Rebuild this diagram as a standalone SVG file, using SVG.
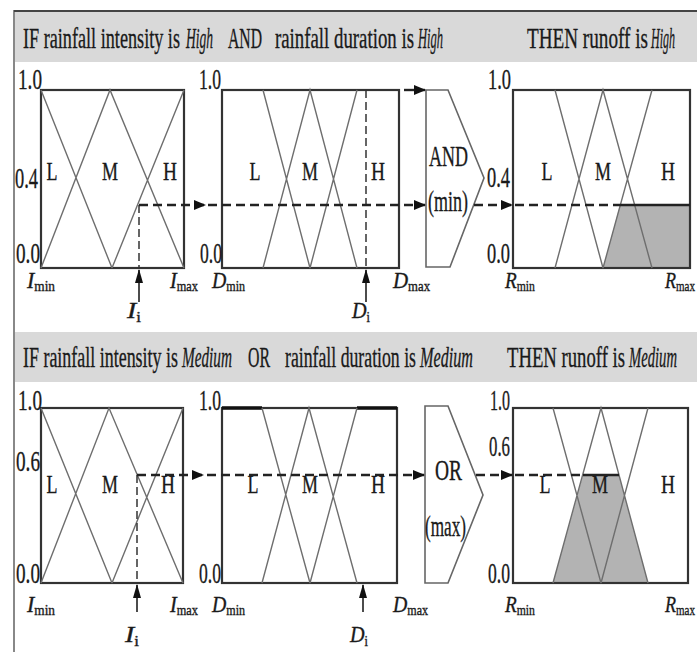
<svg xmlns="http://www.w3.org/2000/svg" width="697" height="652" viewBox="0 0 697 652">
<defs>
<style>
text{font-family:"Liberation Serif","Times New Roman",serif;fill:#1a1a1a;stroke:#1a1a1a;stroke-width:0.35;}
.hd{font-size:30px;}
.num{font-size:30px;}
.lab{font-size:26px;text-anchor:middle;}
.ax{font-size:23px;}
.sub{font-size:14px;font-style:normal;}
.it{font-style:italic;}
.box{fill:none;stroke:#333;stroke-width:2.2;}
.mf{fill:none;stroke:#6e6e6e;stroke-width:1.4;}
.shade{fill:#b3b3b3;stroke:none;}
.gate{fill:#fff;stroke:#666;stroke-width:1.6;}
.dash{fill:none;stroke:#222;stroke-width:2.6;stroke-dasharray:9 5;}
.vdash{fill:none;stroke:#333;stroke-width:1.5;stroke-dasharray:8 4;}
.solid{fill:none;stroke:#222;stroke-width:2.4;}
.up{fill:none;stroke:#111;stroke-width:1.5;}
.band{fill:#d9d9d9;}
</style>
<marker id="ah" markerWidth="12" markerHeight="10" refX="11" refY="5" orient="auto" markerUnits="userSpaceOnUse"><path d="M0,0 L12,5 L0,10 Z" fill="#111"/></marker>
<marker id="av" markerWidth="14" markerHeight="8" refX="13" refY="4" orient="auto" markerUnits="userSpaceOnUse"><path d="M0,0 L14,4 L0,8 Z" fill="#111"/></marker>
</defs>
<rect x="0" y="0" width="697" height="652" fill="#fff"/>

<g id="frame">
<rect class="band" x="15" y="12" width="682" height="50"/>
<rect class="band" x="15" y="332" width="682" height="50"/>
<line x1="14" y1="10" x2="14" y2="652" stroke="#888" stroke-width="2"/>
<line x1="14" y1="11" x2="697" y2="11" stroke="#444" stroke-width="2"/>
</g>

<g id="header-top" transform="scale(0.625,1)">
<text class="hd" x="36.8" y="48" textLength="251.2" lengthAdjust="spacingAndGlyphs">IF rainfall intensity is</text>
<text class="hd it" x="297.6" y="48" textLength="43.2" lengthAdjust="spacingAndGlyphs">High</text>
<text class="hd" x="364.8" y="48" textLength="54.4" lengthAdjust="spacingAndGlyphs">AND</text>
<text class="hd" x="440" y="48" textLength="222.4" lengthAdjust="spacingAndGlyphs">rainfall duration is</text>
<text class="hd it" x="668.8" y="48" textLength="40" lengthAdjust="spacingAndGlyphs">High</text>
<text class="hd" x="843.2" y="48" textLength="193.6" lengthAdjust="spacingAndGlyphs">THEN runoff is</text>
<text class="hd it" x="1041.6" y="48" textLength="38.4" lengthAdjust="spacingAndGlyphs">High</text>
</g>

<g id="header-bottom" transform="scale(0.625,1)">
<text class="hd" x="36.8" y="367" textLength="248" lengthAdjust="spacingAndGlyphs">IF rainfall intensity is</text>
<text class="hd it" x="291.2" y="367" textLength="80" lengthAdjust="spacingAndGlyphs">Medium</text>
<text class="hd" x="396.8" y="367" textLength="35.2" lengthAdjust="spacingAndGlyphs">OR</text>
<text class="hd" x="456" y="367" textLength="209.6" lengthAdjust="spacingAndGlyphs">rainfall duration is</text>
<text class="hd it" x="672" y="367" textLength="84.8" lengthAdjust="spacingAndGlyphs">Medium</text>
<text class="hd" x="811.2" y="367" textLength="188.8" lengthAdjust="spacingAndGlyphs">THEN runoff is</text>
<text class="hd it" x="1006.4" y="367" textLength="76.8" lengthAdjust="spacingAndGlyphs">Medium</text>
</g>

<g id="intensity-high">
<rect class="box" x="41" y="90" width="143" height="178"/>
<path class="mf" d="M41,90 L112,268 M41,268 L110,90 L184,268 M112,268 L184,90"/>
<g transform="scale(0.625,1)">
<text class="num" x="28.8" y="89" textLength="38.4" lengthAdjust="spacingAndGlyphs">1.0</text>
<text class="num" x="24" y="188" textLength="36.8" lengthAdjust="spacingAndGlyphs">0.4</text>
<text class="num" x="25.6" y="263" textLength="38.4" lengthAdjust="spacingAndGlyphs">0.0</text>
<text class="lab" x="83.2" y="180" textLength="17.6" lengthAdjust="spacingAndGlyphs">L</text>
<text class="lab" x="176" y="180" textLength="25.6" lengthAdjust="spacingAndGlyphs">M</text>
<text class="lab" x="272" y="180" textLength="22.4" lengthAdjust="spacingAndGlyphs">H</text>
<text class="ax" x="43.2" y="288" textLength="44.8" lengthAdjust="spacingAndGlyphs"><tspan class="it">I</tspan><tspan class="sub" dy="3">min</tspan></text>
<text class="ax" x="272" y="288" textLength="44.8" lengthAdjust="spacingAndGlyphs"><tspan class="it">I</tspan><tspan class="sub" dy="3">max</tspan></text>
<text class="ax" x="203.2" y="318" textLength="22.4" lengthAdjust="spacingAndGlyphs"><tspan class="it">I</tspan><tspan class="sub" dy="4">i</tspan></text>
</g>
</g>

<g id="duration-high">
<rect class="box" x="222" y="90" width="177" height="178"/>
<path class="mf" d="M263,90 L310,268 M263,268 L310,90 L357,268 M310,268 L357,90"/>
<g transform="scale(0.625,1)">
<text class="num" x="318.4" y="89" textLength="35.2" lengthAdjust="spacingAndGlyphs">1.0</text>
<text class="num" x="320" y="263" textLength="35.2" lengthAdjust="spacingAndGlyphs">0.0</text>
<text class="lab" x="408" y="180" textLength="17.6" lengthAdjust="spacingAndGlyphs">L</text>
<text class="lab" x="496" y="180" textLength="25.6" lengthAdjust="spacingAndGlyphs">M</text>
<text class="lab" x="604.8" y="180" textLength="22.4" lengthAdjust="spacingAndGlyphs">H</text>
<text class="ax" x="339.2" y="288" textLength="52.8" lengthAdjust="spacingAndGlyphs"><tspan class="it">D</tspan><tspan class="sub" dy="3">min</tspan></text>
<text class="ax" x="628.8" y="288" textLength="59.2" lengthAdjust="spacingAndGlyphs"><tspan class="it">D</tspan><tspan class="sub" dy="3">max</tspan></text>
<text class="ax" x="563.2" y="318" textLength="28.8" lengthAdjust="spacingAndGlyphs"><tspan class="it">D</tspan><tspan class="sub" dy="4">i</tspan></text>
</g>
</g>

<g id="and-min">
<polygon class="gate" points="426,90 448,90 484,178 450,267 426,267"/>
<g transform="scale(0.625,1)">
<text class="hd" x="686.4" y="166" textLength="62.4" lengthAdjust="spacingAndGlyphs">AND</text>
<text class="num" x="684.8" y="211" font-size="27" textLength="64" lengthAdjust="spacingAndGlyphs">(min)</text>
</g>
</g>

<g id="runoff-high">
<polygon class="shade" points="603,268 620,205 690,205 690,268"/>
<rect class="box" x="513" y="90" width="177" height="178"/>
<path class="mf" d="M555,90 L603,268 M555,268 L603,90 L652,268 M603,268 L652,90"/>
<g transform="scale(0.625,1)">
<text class="num" x="780.8" y="89" textLength="36.8" lengthAdjust="spacingAndGlyphs">1.0</text>
<text class="num" x="779.2" y="187" textLength="36.8" lengthAdjust="spacingAndGlyphs">0.4</text>
<text class="num" x="779.2" y="263" textLength="36.8" lengthAdjust="spacingAndGlyphs">0.0</text>
<text class="lab" x="875.2" y="180" textLength="17.6" lengthAdjust="spacingAndGlyphs">L</text>
<text class="lab" x="964.8" y="180" textLength="25.6" lengthAdjust="spacingAndGlyphs">M</text>
<text class="lab" x="1068.8" y="180" textLength="22.4" lengthAdjust="spacingAndGlyphs">H</text>
<text class="ax" x="808" y="288" textLength="48" lengthAdjust="spacingAndGlyphs"><tspan class="it">R</tspan><tspan class="sub" dy="3">min</tspan></text>
<text class="ax" x="1064" y="288" textLength="48" lengthAdjust="spacingAndGlyphs"><tspan class="it">R</tspan><tspan class="sub" dy="3">max</tspan></text>
</g>
</g>

<g id="intensity-medium">
<rect class="box" x="41" y="408" width="142" height="175"/>
<path class="mf" d="M41,408 L112,583 M41,583 L109,408 L183,583 M112,583 L183,408"/>
<g transform="scale(0.625,1)">
<text class="num" x="28.8" y="410" textLength="38.4" lengthAdjust="spacingAndGlyphs">1.0</text>
<text class="num" x="25.6" y="471" textLength="38.4" lengthAdjust="spacingAndGlyphs">0.6</text>
<text class="num" x="25.6" y="583" textLength="38.4" lengthAdjust="spacingAndGlyphs">0.0</text>
<text class="lab" x="83.2" y="493" textLength="17.6" lengthAdjust="spacingAndGlyphs">L</text>
<text class="lab" x="176" y="493" textLength="25.6" lengthAdjust="spacingAndGlyphs">M</text>
<text class="lab" x="268.8" y="493" textLength="22.4" lengthAdjust="spacingAndGlyphs">H</text>
<text class="ax" x="43.2" y="612" textLength="44.8" lengthAdjust="spacingAndGlyphs"><tspan class="it">I</tspan><tspan class="sub" dy="3">min</tspan></text>
<text class="ax" x="272" y="612" textLength="44.8" lengthAdjust="spacingAndGlyphs"><tspan class="it">I</tspan><tspan class="sub" dy="3">max</tspan></text>
<text class="ax" x="200" y="642" textLength="22.4" lengthAdjust="spacingAndGlyphs"><tspan class="it">I</tspan><tspan class="sub" dy="4">i</tspan></text>
</g>
</g>

<g id="duration-medium">
<rect class="box" x="222" y="408" width="175" height="175"/>
<path d="M222,408 L262,408 M357,408 L397,408" stroke="#111" stroke-width="3.6" fill="none"/>
<path class="mf" d="M262,408 L310,583 M262,583 L309,408 L357,583 M310,583 L357,408"/>
<g transform="scale(0.625,1)">
<text class="num" x="318.4" y="410" textLength="35.2" lengthAdjust="spacingAndGlyphs">1.0</text>
<text class="num" x="318.4" y="583" textLength="35.2" lengthAdjust="spacingAndGlyphs">0.0</text>
<text class="lab" x="404.8" y="493" textLength="17.6" lengthAdjust="spacingAndGlyphs">L</text>
<text class="lab" x="496" y="493" textLength="25.6" lengthAdjust="spacingAndGlyphs">M</text>
<text class="lab" x="604.8" y="493" textLength="22.4" lengthAdjust="spacingAndGlyphs">H</text>
<text class="ax" x="339.2" y="612" textLength="52.8" lengthAdjust="spacingAndGlyphs"><tspan class="it">D</tspan><tspan class="sub" dy="3">min</tspan></text>
<text class="ax" x="628.8" y="612" textLength="56" lengthAdjust="spacingAndGlyphs"><tspan class="it">D</tspan><tspan class="sub" dy="3">max</tspan></text>
<text class="ax" x="560" y="642" textLength="28.8" lengthAdjust="spacingAndGlyphs"><tspan class="it">D</tspan><tspan class="sub" dy="4">i</tspan></text>
</g>
</g>

<g id="or-max">
<polygon class="gate" points="425,406 448,406 483,495 448,583 425,583"/>
<g transform="scale(0.625,1)">
<text class="hd" x="696" y="480" textLength="43.2" lengthAdjust="spacingAndGlyphs">OR</text>
<text class="num" x="680" y="536" font-size="27" textLength="65.6" lengthAdjust="spacingAndGlyphs">(max)</text>
</g>
</g>

<g id="runoff-medium">
<polygon class="shade" points="553,583 583,475 619,475 648,583"/>
<rect class="box" x="513" y="408" width="175" height="175"/>
<path class="mf" d="M553,408 L601,583 M553,583 L601,408 L648,583 M601,583 L648,408"/>
<g transform="scale(0.625,1)">
<text class="num" x="784" y="410" textLength="32" lengthAdjust="spacingAndGlyphs">1.0</text>
<text class="num" x="782.4" y="456" textLength="33.6" lengthAdjust="spacingAndGlyphs">0.6</text>
<text class="num" x="780.8" y="583" textLength="35.2" lengthAdjust="spacingAndGlyphs">0.0</text>
<text class="lab" x="872" y="493" textLength="17.6" lengthAdjust="spacingAndGlyphs">L</text>
<text class="lab" x="960" y="493" textLength="25.6" lengthAdjust="spacingAndGlyphs">M</text>
<text class="lab" x="1068.8" y="493" textLength="22.4" lengthAdjust="spacingAndGlyphs">H</text>
<text class="ax" x="808" y="612" textLength="48" lengthAdjust="spacingAndGlyphs"><tspan class="it">R</tspan><tspan class="sub" dy="3">min</tspan></text>
<text class="ax" x="1064" y="612" textLength="48" lengthAdjust="spacingAndGlyphs"><tspan class="it">R</tspan><tspan class="sub" dy="3">max</tspan></text>
</g>
</g>

<g id="connectors">
<path class="vdash" d="M139,205 L139,268"/>
<path class="vdash" d="M366,90 L366,268"/>
<path class="vdash" d="M137,475 L137,583"/>
<path class="up" d="M139,302 L139,270" marker-end="url(#av)"/>
<path class="up" d="M366,302 L366,270" marker-end="url(#av)"/>
<path class="up" d="M137,612 L137,585" marker-end="url(#av)"/>
<path class="up" d="M363,612 L363,585" marker-end="url(#av)"/>
<path class="solid" d="M404,90 L425,90" stroke-width="2" marker-end="url(#ah)"/>
<path class="dash" d="M139,205 L205,205" marker-end="url(#ah)"/>
<path class="dash" d="M208,205 L425,205" marker-end="url(#ah)"/>
<path class="dash" d="M474,205 L512,205" marker-end="url(#ah)"/>
<path class="dash" d="M515,205 L620,205"/>
<path class="solid" d="M620,205 L690,205"/>
<path class="dash" d="M137,475 L203,475" marker-end="url(#ah)"/>
<path class="dash" d="M207,475 L424,475" marker-end="url(#ah)"/>
<path class="dash" d="M476,475 L512,475" marker-end="url(#ah)"/>
<path class="dash" d="M515,475 L583,475"/>
<path class="solid" d="M583,475 L619,475"/>
</g>
</svg>
